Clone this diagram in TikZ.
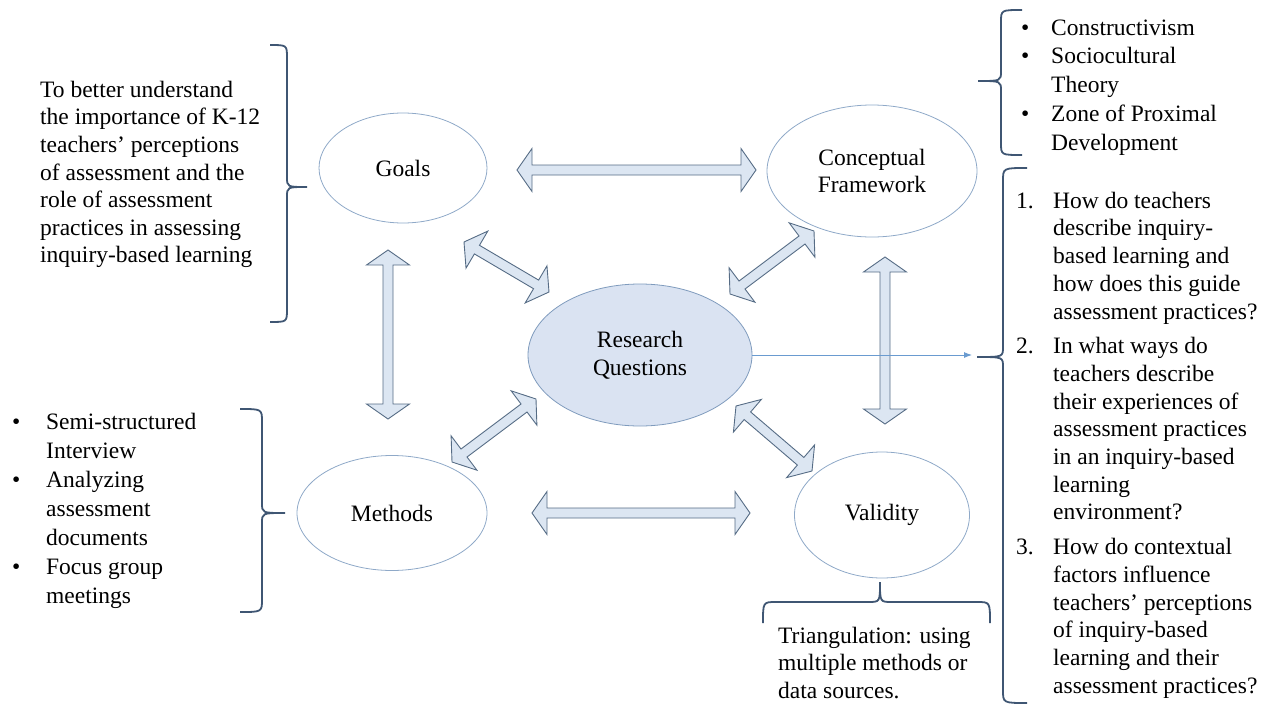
\documentclass[tikz,border=0pt]{standalone}
\usepackage{fontspec}
\setmainfont{Liberation Serif}
\usetikzlibrary{shapes.geometric,calc,arrows.meta}
\definecolor{ellc}{HTML}{8FA9C8}
\definecolor{rqfill}{HTML}{DAE3F2}
\definecolor{rqdraw}{HTML}{7F9BBD}
\definecolor{arrfill}{HTML}{DCE6F2}
\definecolor{arrdraw}{HTML}{566C85}
\definecolor{bracec}{HTML}{3F5673}
\definecolor{thinc}{HTML}{6A9BD0}
\newcommand\ahl{15pt}
\newcommand\ahw{21.5pt}
\newcommand\asw{5pt}
\newcommand\dblarrow[2]{%
  \path[barrow] let \p1=($(#2)-(#1)$), \n1={atan2(\y1,\x1)} in
  (#1) -- ($(#1)+(\n1:\ahl)+(\n1+90:\ahw)$) -- ($(#1)+(\n1:\ahl)+(\n1+90:\asw)$)
  -- ($(#2)+(\n1+180:\ahl)+(\n1+90:\asw)$) -- ($(#2)+(\n1+180:\ahl)+(\n1+90:\ahw)$)
  -- (#2) -- ($(#2)+(\n1+180:\ahl)+(\n1-90:\ahw)$) -- ($(#2)+(\n1+180:\ahl)+(\n1-90:\asw)$)
  -- ($(#1)+(\n1:\ahl)+(\n1-90:\asw)$) -- ($(#1)+(\n1:\ahl)+(\n1-90:\ahw)$) -- cycle;}
\newcommand\fst{\rule{0pt}{18pt}}
\tikzset{
  ell/.style={ellipse, draw=ellc, line width=0.8pt, inner sep=0pt, align=center,
    font=\fontsize{23.5}{27.7}\selectfont},
  barrow/.style={draw=arrdraw, fill=arrfill, line width=0.9pt, line join=miter},
  brace/.style={draw=bracec, line width=1.8pt},
  txt/.style={anchor=north west, inner sep=0pt, align=left},
}
\begin{document}
\begin{tikzpicture}[x=1pt,y=-1pt]
\useasboundingbox (0,0) rectangle (1267,707);
% ellipses
\node[ell, minimum width=168pt, minimum height=110pt] (goals) at (403,168) {Goals};
\node[ell, minimum width=210pt, minimum height=132pt] (cf) at (872,171) {Conceptual\\Framework};
\node[ell, fill=rqfill, draw=rqdraw, minimum width=224pt, minimum height=142pt] (rq) at (640,355) {Research\\Questions};
\node[ell, minimum width=190pt, minimum height=115pt] (meth) at (392,513) {Methods};
\node[ell, minimum width=175pt, minimum height=126pt] (val) at (882,515) {Validity};
% arrow end points
\coordinate (gcA) at (517,170); \coordinate (gcB) at (756,170);
\coordinate (mvA) at (532,513); \coordinate (mvB) at (750,513);
\coordinate (gmA) at (388,250); \coordinate (gmB) at (388,419);
\coordinate (cvA) at (885,257); \coordinate (cvB) at (885,424);
\coordinate (grA) at (464,242); \coordinate (grB) at (549,292);
\coordinate (crA) at (814,231); \coordinate (crB) at (730,294);
\coordinate (mrA) at (452,462); \coordinate (mrB) at (536,399);
\coordinate (vrA) at (736,406); \coordinate (vrB) at (812,471);
\dblarrow{gcA}{gcB}
\dblarrow{mvA}{mvB}
\dblarrow{gmA}{gmB}
\dblarrow{cvA}{cvB}
\dblarrow{grA}{grB}
\dblarrow{crA}{crB}
\dblarrow{mrA}{mrB}
\dblarrow{vrA}{vrB}
% thin arrow
\coordinate (qtip) at (972,355);
\draw[thinc, line width=0.9pt, -{Latex[length=8pt,width=6pt]}] (rq.east) -- (qtip);
% braces
\draw[brace] (270,45) .. controls (287,45) .. (287,58) -- (287,177) .. controls (287,187) .. (307,187)
  .. controls (287,187) .. (287,197) -- (287,309) .. controls (287,322) .. (270,322);
\draw[brace] (240,409) .. controls (262,409) .. (262,422) -- (262,503) .. controls (262,513) .. (285,513)
  .. controls (262,513) .. (262,523) -- (262,599) .. controls (262,612) .. (240,612);
\draw[brace] (1022,10) .. controls (1001,10) .. (1001,22) -- (1001,71) .. controls (1001,81) .. (978,81)
  .. controls (1001,81) .. (1001,91) -- (1001,143) .. controls (1001,155) .. (1022,155);
\draw[brace] (1027,168) .. controls (1003,168) .. (1003,181) -- (1003,347) .. controls (1003,357) .. (977,357)
  .. controls (1003,357) .. (1003,367) -- (1003,690) .. controls (1003,703) .. (1027,703);
\draw[brace] (763,623) .. controls (763,602) .. (776,602) -- (868,602) .. controls (880,602) .. (880,582)
  .. controls (880,602) .. (892,602) -- (977,602) .. controls (990,602) .. (990,623);
% text blocks
\node[txt, font=\fontsize{23.5}{27.6}\selectfont] (goalstxt) at (40,79)
 {\fst To better understand\\the importance of K-12\\teachers’ perceptions\\of assessment and the\\role of assessment\\practices in assessing\\inquiry-based learning};
\node[txt, font=\fontsize{23.5}{29}\selectfont] (methtxt) at (12,411)
 {\fst\makebox[34pt][l]{\textbullet}Semi-structured\\\hspace*{34pt}Interview\\\makebox[34pt][l]{\textbullet}Analyzing\\\hspace*{34pt}assessment\\\hspace*{34pt}documents\\\makebox[34pt][l]{\textbullet}Focus group\\\hspace*{34pt}meetings};
\node[txt, font=\fontsize{23.5}{28.75}\selectfont] (cftxt) at (1021,17)
 {\fst\makebox[30pt][l]{\textbullet}Constructivism\\\makebox[30pt][l]{\textbullet}Sociocultural\\\hspace*{30pt}Theory\\\makebox[30pt][l]{\textbullet}Zone of Proximal\\\hspace*{30pt}Development};
\node[txt, font=\fontsize{23.5}{27.7}\selectfont] (rqtxt) at (1016,190)
 {\fst\makebox[37pt][l]{1.}How do teachers\\\hspace*{37pt}describe inquiry-\\\hspace*{37pt}based learning and\\\hspace*{37pt}how does this guide\\\hspace*{37pt}assessment practices?\\[7pt]\makebox[37pt][l]{2.}In what ways do\\\hspace*{37pt}teachers describe\\\hspace*{37pt}their experiences of\\\hspace*{37pt}assessment practices\\\hspace*{37pt}in an inquiry-based\\\hspace*{37pt}learning\\\hspace*{37pt}environment?\\[7pt]\makebox[37pt][l]{3.}How do contextual\\\hspace*{37pt}factors influence\\\hspace*{37pt}teachers’ perceptions\\\hspace*{37pt}of inquiry-based\\\hspace*{37pt}learning and their\\\hspace*{37pt}assessment practices?};
\node[txt, font=\fontsize{23.5}{27.5}\selectfont] (tritxt) at (778,625)
 {\fst Triangulation: using\\multiple methods or\\data sources.};
\end{tikzpicture}
\end{document}
